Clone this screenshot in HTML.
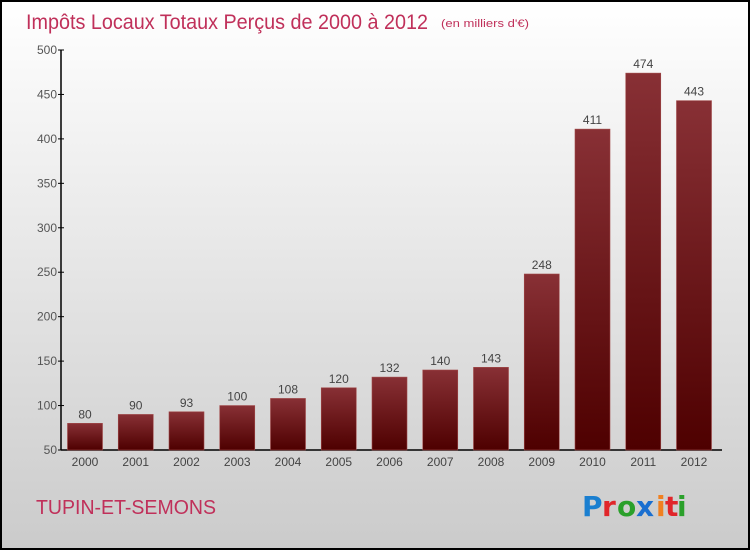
<!DOCTYPE html>
<html><head><meta charset="utf-8"><style>
body{margin:0;}
#c{width:750px;height:550px;position:relative;overflow:hidden;font-family:"Liberation Sans",sans-serif;}
</style></head><body>
<div id="c">
<svg width="750" height="550" id="svg">
<defs>
<linearGradient id="bg" x1="0" y1="0" x2="0" y2="1"><stop offset="0" stop-color="#ffffff"/><stop offset="1" stop-color="#cbcbcb"/></linearGradient>
<linearGradient id="bar" x1="0" y1="0" x2="0" y2="1"><stop offset="0" stop-color="#883035"/><stop offset="1" stop-color="#4e0000"/></linearGradient>
</defs>
<rect x="1" y="1" width="748" height="548" fill="url(#bg)" stroke="#000" stroke-width="2"/>
<text x="26" y="29" font-size="21" fill="#c0305a" textLength="402" lengthAdjust="spacingAndGlyphs">Impôts Locaux Totaux Perçus de 2000 à 2012</text>
<text x="441" y="27" font-size="11" fill="#c0305a" textLength="88" lengthAdjust="spacingAndGlyphs">(en milliers d'€)</text>
<g id="axes"></g>
<g id="bars"></g>
<text x="36" y="514" font-size="20" fill="#c0305a" textLength="180" lengthAdjust="spacingAndGlyphs">TUPIN-ET-SEMONS</text>
<g font-size="28" font-family="'DejaVu Sans',sans-serif" font-weight="bold">
<text x="582" y="516" fill="#1a7fd0">P</text><text x="602" y="516" fill="#e0262a">r</text><text x="617" y="516" fill="#2aa02a">o</text><text x="636" y="516" fill="#1a6fd0">x</text><text x="656" y="516" fill="#f08020">i</text><text x="665" y="516" fill="#e0262a">t</text><text x="677" y="516" fill="#2aa02a">i</text>
</g>
</svg>
</div>
<script>
const categories=["2000","2001","2002","2003","2004","2005","2006","2007","2008","2009","2010","2011","2012"];
const values=[80,90,93,100,108,120,132,140,143,248,411,474,443];
const yTicks=[50,100,150,200,250,300,350,400,450,500];
const NS="http://www.w3.org/2000/svg";
const y0=450,y1=50,vmin=50,vmax=500,xStart=85,pitch=50.75,bw=35;
function yScale(v){return y0-(v-vmin)/(vmax-vmin)*(y0-y1);}
function xScale(i){return xStart+i*pitch;}
function mk(t,a,p){const e=document.createElementNS(NS,t);for(const k in a)e.setAttribute(k,a[k]);p.appendChild(e);return e;}
const ax=document.getElementById('axes'),bg=document.getElementById('bars');
const yl=mk('line',{x1:61,y1:y1,x2:61,y2:y0,stroke:'#000','stroke-width':1.5},ax);


const xl=mk('line',{x1:61,y1:y0,x2:722,y2:y0,stroke:'#000','stroke-width':1.5},ax);


yTicks.forEach(v=>{const y=yScale(v);
mk('line',{x1:58,y1:y,x2:64,y2:y,stroke:'#000'},ax);
const t=mk('text',{x:57,y:y+4,'text-anchor':'end','font-size':12,fill:'#555'},ax);t.textContent=v;

});
categories.forEach((c,i)=>{const x=xScale(i),v=values[i],y=yScale(v);
const r=mk('rect',{x:x-bw/2,y:y,width:bw,height:y0-y,fill:'url(#bar)',stroke:'#a04848','stroke-width':0.6},bg);


const vl=mk('text',{x:x,y:y-5,'text-anchor':'middle','font-size':12,fill:'#444'},bg);vl.textContent=v;


const xt=mk('text',{x:x,y:466,'text-anchor':'middle','font-size':12,fill:'#444'},bg);xt.textContent=c;

});
</script>
</body></html>
